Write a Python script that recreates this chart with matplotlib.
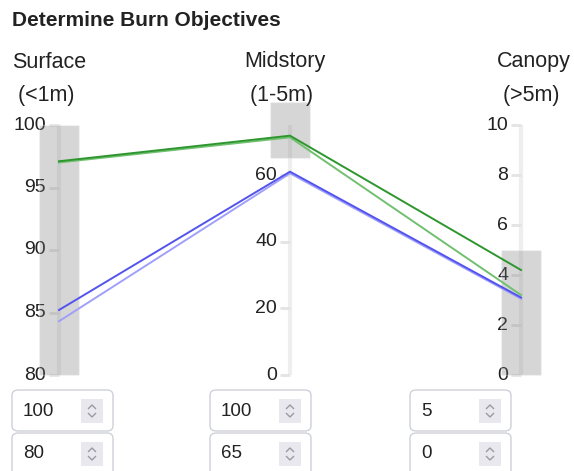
import matplotlib
matplotlib.use("Agg")
import matplotlib.pyplot as plt
from matplotlib.patches import Rectangle, FancyBboxPatch
from matplotlib.lines import Line2D
from matplotlib.transforms import offset_copy

plt.rcParams['font.family'] = ['Liberation Sans', 'DejaVu Sans']

# ---------------- data ----------------
title = "Determine Burn Objectives"
dimensions = ["Surface", "Midstory", "Canopy"]
dim_units = ["(<1m)", "(1-5m)", "(>5m)"]
axis_lo = [80, 0, 0]
axis_hi = [100, 75, 10]
surface_ticks = [80, 85, 90, 95, 100]
midstory_ticks = [0, 20, 40, 60]
canopy_ticks = [0, 2, 4, 6, 8, 10]

series_names = ["light blue", "blue", "light green", "dark green"]
surface_vals = [84.3, 85.2, 97.0, 97.1]
midstory_vals = [60.5, 61.0, 71.3, 71.8]
canopy_vals = [3.05, 3.1, 3.2, 4.2]
series_colors = ["#a0a0fa", "#5353ee", "#70c070", "#2e962e"]

brush_max = [100, 100, 5]
brush_min = [80, 65, 0]

# ---------------- figure ----------------
W, H = 574, 471
fig = plt.figure(figsize=(W / 100, H / 100), dpi=100)

x0_px, x2_px = 59, 521      # surface / canopy axis x
ytop_px, ybot_px = 125, 375  # top / bottom of axes
ax = fig.add_axes([x0_px / W, (H - ybot_px) / H, (x2_px - x0_px) / W, (ybot_px - ytop_px) / H])
ax.set_xlim(0, 2)
ax.set_ylim(0, 1)
ax.axis('off')

def norm(i, v):
    return (v - axis_lo[i]) / (axis_hi[i] - axis_lo[i])

ticks_all = [surface_ticks, midstory_ticks, canopy_ticks]
label_tr = offset_copy(ax.transData, fig=fig, x=-13, y=0, units='dots')
px_per_x = (x2_px - x0_px) / 2.0
half_brush = 20 / px_per_x
brush_top_limit = 1.09

for i in range(3):
    ax.plot([i, i], [0, 1], color='#eeeeee', lw=3, solid_capstyle='butt', zorder=1, clip_on=False)
    ys = [norm(i, t) for t in ticks_all[i]]
    ax.plot([i] * len(ys), ys, ls='none', marker=0, markersize=7, mew=2,
            color='#e4e4e4', zorder=1, clip_on=False)
    for t, y in zip(ticks_all[i], ys):
        ax.text(i, y, str(t), transform=label_tr, ha='right', va='center',
                fontsize=14, color='#222222', zorder=2, clip_on=False)
    b0 = norm(i, brush_min[i])
    b1 = min(norm(i, brush_max[i]), brush_top_limit)
    ax.add_patch(Rectangle((i - half_brush, b0), 2 * half_brush, b1 - b0,
                           facecolor='#7a7a7a', alpha=0.3, edgecolor='white',
                           lw=1, zorder=3, clip_on=False))

for k in range(len(series_names)):
    ys = [norm(0, surface_vals[k]), norm(1, midstory_vals[k]), norm(2, canopy_vals[k])]
    ax.plot([0, 1, 2], ys, color=series_colors[k], lw=1.4, zorder=4, clip_on=False)

# ---------------- header text ----------------
def fx(px):
    return px / W

def fy(py):
    return 1 - py / H

fig.text(fx(12), fy(21), title, fontsize=15, fontweight='bold', color='#222222',
         ha='left', va='center')
header_x = [12, 244, 497]
for name, unit, hx in zip(dimensions, dim_units, header_x):
    fig.text(fx(hx), fy(62), name, fontsize=15.5, color='#222222', ha='left', va='center')
    fig.text(fx(hx), fy(95), " " + unit, fontsize=15.5, color='#222222', ha='left', va='center')

# ---------------- input boxes ----------------
box_x = [12, 210, 410]
box_w = 101
rows = [(390, 41, brush_max), (433, 45, brush_min)]
for (ry, rh, vals) in rows:
    for bx, v in zip(box_x, vals):
        p = FancyBboxPatch((fx(bx), fy(ry + rh)), box_w / W, rh / H,
                           boxstyle="round,pad=0,rounding_size=0.011",
                           transform=fig.transFigure, facecolor='white',
                           edgecolor='#cdd1d9', lw=1, clip_on=False)
        fig.patches.append(p)
        fig.text(fx(bx + 11), fy(ry + 21), str(v), fontsize=13.5, color='#222222',
                 ha='left', va='center')
        sx = bx + 69
        sy = ry + 9
        fig.patches.append(Rectangle((fx(sx), fy(sy + 24)), 22 / W, 24 / H,
                                     transform=fig.transFigure, facecolor='#e8e8ee',
                                     edgecolor='none'))
        cx = sx + 11
        fig.add_artist(Line2D([fx(cx - 3.5), fx(cx), fx(cx + 3.5)],
                              [fy(sy + 9.5), fy(sy + 6), fy(sy + 9.5)],
                              transform=fig.transFigure, color='#9a9aa2', lw=1.0))
        fig.add_artist(Line2D([fx(cx - 3.5), fx(cx), fx(cx + 3.5)],
                              [fy(sy + 14.5), fy(sy + 18), fy(sy + 14.5)],
                              transform=fig.transFigure, color='#9a9aa2', lw=1.0))

fig.savefig("out.png", dpi=100)
